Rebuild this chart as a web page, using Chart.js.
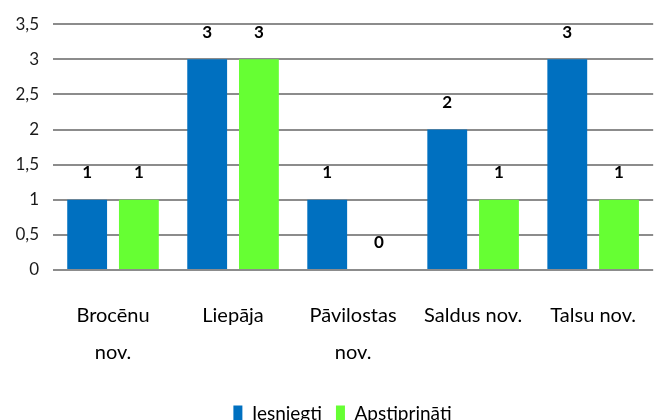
<!DOCTYPE html>
<html>
<head>
<meta charset="utf-8">
<script src="https://cdn.jsdelivr.net/npm/chart.js@4/dist/chart.umd.min.js"></script>
<style>
html,body{margin:0;padding:0;background:#fff;}
#wrap{width:655px;height:420px;}
</style>
</head>
<body>
<div id="wrap"><canvas id="c" width="655" height="420"></canvas></div>
<script>
const categories = [["Brocēnu","nov."], "Liepāja", ["Pāvilostas","nov."], "Saldus nov.", "Talsu nov."];
const iesniegti = [1, 3, 1, 2, 3];
const apstiprinati = [1, 3, 0, 1, 1];
const seriesNames = ["Iesniegti", "Apstiprināti"];
const yTicks = [0, 0.5, 1, 1.5, 2, 2.5, 3, 3.5];

const FONT = 'Lato, "Open Sans", sans-serif';

const dataLabels = {
  id: 'dataLabels',
  afterDatasetsDraw(chart) {
    const ctx = chart.ctx;
    ctx.save();
    ctx.font = 'bold 17px ' + FONT;
    ctx.fillStyle = '#000';
    ctx.textAlign = 'center';
    ctx.textBaseline = 'middle';
    chart.data.datasets.forEach((ds, i) => {
      const meta = chart.getDatasetMeta(i);
      meta.data.forEach((el, j) => {
        ctx.fillText(String(ds.data[j]), el.x, el.y - 27);
      });
    });
    ctx.restore();
  }
};

const shiftLegend = {
  id: 'shiftLegend',
  afterLayout(chart) {
    if (chart.legend) { chart.legend.left += 15; chart.legend.right += 15; }
  }
};

new Chart(document.getElementById('c'), {
  type: 'bar',
  data: {
    labels: categories,
    datasets: [
      { label: seriesNames[0], data: iesniegti, backgroundColor: '#0070C0', categoryPercentage: 0.862, barPercentage: 0.77 },
      { label: seriesNames[1], data: apstiprinati, backgroundColor: '#66FF33', categoryPercentage: 0.862, barPercentage: 0.77 }
    ]
  },
  options: {
    responsive: false,
    animation: false,
    layout: { padding: { top: 16, right: 0, left: 0, bottom: -13 } },
    plugins: {
      legend: {
        position: 'bottom',
        labels: {
          font: { family: FONT, size: 19 },
          color: '#000',
          boxWidth: 9,
          boxHeight: 16,
          padding: 14
        }
      },
      tooltip: { enabled: false }
    },
    scales: {
      y: {
        min: 0, max: 3.5,
        afterBuildTicks(scale) { scale.ticks = yTicks.map(v => ({ value: v })); },
        afterFit(scale) { scale.width = 53; },
        ticks: {
          font: { family: FONT, size: 17 },
          color: '#1a1a1a',
          padding: 14,
          callback: v => String(v).replace('.', ',')
        },
        grid: { color: '#8c8c8c', lineWidth: 2, drawTicks: false },
        border: { display: false }
      },
      x: {
        grid: { display: false },
        border: { display: false },
        ticks: {
          font: { family: FONT, size: 20, lineHeight: 1.85 },
          color: '#000',
          padding: 19,
          maxRotation: 0,
          autoSkip: false
        }
      }
    }
  },
  plugins: [dataLabels, shiftLegend]
});
</script>
</body>
</html>
